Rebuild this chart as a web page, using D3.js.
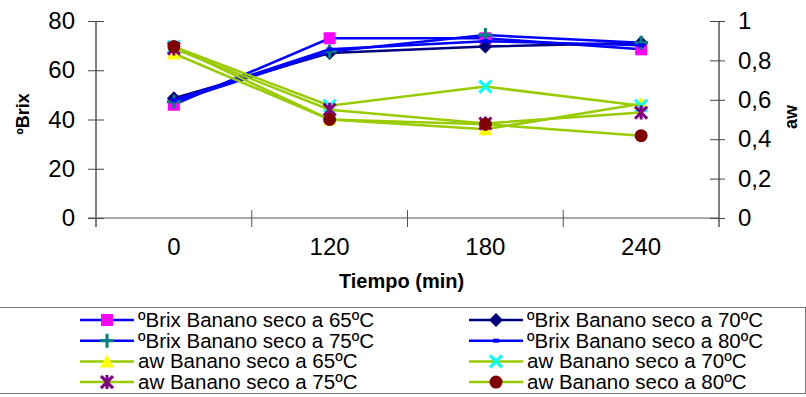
<!DOCTYPE html>
<html>
<head>
<meta charset="utf-8">
<script src="https://cdn.jsdelivr.net/npm/d3@7"></script>
<style>
    body { margin: 0; background: #fff; }
    svg { font-family: 'Liberation Sans', Arial, sans-serif; }
</style>
</head>
<body>
<div id="chart"></div>
<script>
const tiempos = ['0', '120', '180', '240'];
const brixTicks = [0, 20, 40, 60, 80];
const awTicks = [0, 0.2, 0.4, 0.6, 0.8, 1];

// ºBrix series
const brix65 = [46, 73, 73, 68.5];
const brix70 = [48.6, 67, 69.6, 71.2];
const brix75 = [47.2, 67.6, 74.3, 71.2];
const brix80 = [47.8, 68.5, 71.8, 70.2];

// aw series
const aw65 = [0.835, 0.5, 0.45, 0.58];
const aw70 = [0.87, 0.57, 0.667, 0.57];
const aw75 = [0.86, 0.55, 0.48, 0.535];
const aw80 = [0.87, 0.5, 0.476, 0.418];

const series = [
    { name: 'ºBrix Banano seco a 65ºC', values: brix65, axis: 'l', line: '#0000FF', marker: 'square', fill: '#FF00FF' },
    { name: 'ºBrix Banano seco a 70ºC', values: brix70, axis: 'l', line: '#000080', marker: 'diamond', fill: '#000080' },
    { name: 'ºBrix Banano seco a 75ºC', values: brix75, axis: 'l', line: '#0000FF', marker: 'plus', fill: '#008080' },
    { name: 'ºBrix Banano seco a 80ºC', values: brix80, axis: 'l', line: '#0000FF', marker: 'dash', fill: '#0000FF' },
    { name: 'aw Banano seco a 65ºC', values: aw65, axis: 'r', line: '#99CC00', marker: 'triangle', fill: '#FFFF00' },
    { name: 'aw Banano seco a 70ºC', values: aw70, axis: 'r', line: '#99CC00', marker: 'x', fill: '#00FFFF' },
    { name: 'aw Banano seco a 75ºC', values: aw75, axis: 'r', line: '#99CC00', marker: 'star', fill: '#800080' },
    { name: 'aw Banano seco a 80ºC', values: aw80, axis: 'r', line: '#99CC00', marker: 'circle', fill: '#800000' }
];

const width = 806, height = 397;
const plot = { left: 96, right: 719, top: 21, bottom: 218 };

const svg = d3.select('#chart')
    .append('svg')
    .attr('width', width)
    .attr('height', height);

let x = d3.scaleBand()
    .domain(tiempos)
    .range([plot.left, plot.right]);

let yL = d3.scaleLinear()
    .domain([0, 80])
    .range([plot.bottom, plot.top]);

let yR = d3.scaleLinear()
    .domain([0, 1])
    .range([plot.bottom, plot.top]);

// left axis
let gL = svg.append('g')
    .attr('transform', `translate(${plot.left},0)`)
    .call(d3.axisLeft(yL).tickValues(brixTicks).tickSize(8).tickPadding(13));
gL.select('.domain').attr('stroke', '#000').attr('d', `M0,${plot.top}V${plot.bottom + 9}`);
gL.selectAll('.tick line').attr('x1', 8).attr('stroke', '#444');
gL.selectAll('.tick text').attr('font-size', 24).attr('fill', '#000');

// right axis
let gR = svg.append('g')
    .attr('transform', `translate(${plot.right},0)`)
    .call(d3.axisRight(yR).tickValues(awTicks).tickSize(6).tickPadding(13)
        .tickFormat(d => d3.format('.1~f')(d).replace('.', ',')));
gR.select('.domain').attr('stroke', '#000').attr('d', `M0,${plot.top}V${plot.bottom + 9}`);
gR.selectAll('.tick line').attr('x1', -9).attr('stroke', '#444');
gR.selectAll('.tick text').attr('font-size', 24).attr('fill', '#000');

// x axis
let gX = svg.append('g')
    .attr('transform', `translate(0,${plot.bottom})`)
    .call(d3.axisBottom(x).tickSize(0).tickPadding(20));
gX.select('.domain').attr('stroke', '#555').attr('d', `M${plot.left - 8},0H${plot.right}`);
gX.selectAll('.tick text').attr('font-size', 24).attr('fill', '#000');

svg.append('g')
    .selectAll('line')
    .data(tiempos.slice(0, -1))
    .enter()
    .append('line')
    .attr('x1', d => x(d) + x.bandwidth())
    .attr('x2', d => x(d) + x.bandwidth())
    .attr('y1', plot.bottom - 8)
    .attr('y2', plot.bottom + 9)
    .attr('stroke', '#555');

// axis titles
svg.append('text')
    .attr('x', (plot.left + plot.right) / 2 - 6)
    .attr('y', 288)
    .attr('text-anchor', 'middle')
    .attr('font-size', 20)
    .attr('font-weight', 'bold')
    .text('Tiempo (min)');

svg.append('text')
    .attr('transform', 'translate(29,114) rotate(-90)')
    .attr('text-anchor', 'middle')
    .attr('font-size', 18)
    .attr('font-weight', 'bold')
    .text('ºBrix');

svg.append('text')
    .attr('transform', 'translate(797,117) rotate(-90)')
    .attr('text-anchor', 'middle')
    .attr('font-size', 18)
    .attr('font-weight', 'bold')
    .text('aw');

function drawMarker(g, type, fill) {
    switch (type) {
        case 'square':
            g.append('rect').attr('x', -6).attr('y', -6).attr('width', 12).attr('height', 12).attr('fill', fill);
            break;
        case 'diamond':
            g.append('path').attr('d', 'M0,-7L7,0L0,7L-7,0Z').attr('fill', fill);
            break;
        case 'plus':
            g.append('path').attr('d', 'M-7,0H7M0,-7V7').attr('stroke', fill).attr('stroke-width', 3);
            break;
        case 'dash':
            g.append('rect').attr('x', -3).attr('y', -2).attr('width', 6).attr('height', 4).attr('fill', fill);
            break;
        case 'triangle':
            g.append('path').attr('d', 'M0,-7L7,6H-7Z').attr('fill', fill);
            break;
        case 'x':
            g.append('path').attr('d', 'M-6,-6L6,6M6,-6L-6,6').attr('stroke', fill).attr('stroke-width', 3);
            break;
        case 'star':
            g.append('path').attr('d', 'M-6,-6L6,6M6,-6L-6,6M0,-7V7').attr('stroke', fill).attr('stroke-width', 3);
            break;
        case 'circle':
            g.append('circle').attr('r', 6.5).attr('fill', fill);
            break;
    }
}

// series
series.forEach(s => {
    let yScale = s.axis == 'l' ? yL : yR;
    let line = d3.line()
        .x((d, i) => x(tiempos[i]) + x.bandwidth() / 2)
        .y(d => yScale(d));

    svg.append('path')
        .datum(s.values)
        .attr('fill', 'none')
        .attr('stroke', s.line)
        .attr('stroke-width', 2.5)
        .attr('d', line);

    s.values.forEach((v, i) => {
        let g = svg.append('g')
            .attr('transform', `translate(${x(tiempos[i]) + x.bandwidth() / 2},${yScale(v)})`);
        drawMarker(g, s.marker, s.fill);
    });
});

// legend
svg.append('rect')
    .attr('x', -2)
    .attr('y', 307.5)
    .attr('width', 807.5)
    .attr('height', 86)
    .attr('fill', 'none')
    .attr('stroke', '#777');

let colX = [80, 469];
series.forEach((s, i) => {
    let cx = colX[i % 2];
    let cy = 320 + Math.floor(i / 2) * 20.7;
    let g = svg.append('g').attr('transform', `translate(${cx},${cy})`);
    g.append('line')
        .attr('x1', 0).attr('x2', 54)
        .attr('stroke', s.line)
        .attr('stroke-width', 2.5);
    let m = g.append('g').attr('transform', 'translate(27,0)');
    drawMarker(m, s.marker, s.fill);
    g.append('text')
        .attr('x', 58)
        .attr('y', 7)
        .attr('font-size', 20.5)
        .text(s.name);
});
</script>
</body>
</html>
